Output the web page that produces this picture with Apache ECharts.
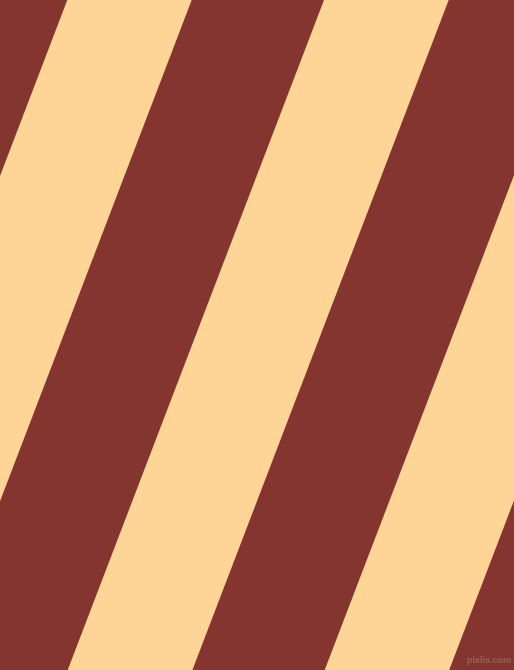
<!DOCTYPE html>
<html>
<head>
    <meta charset="utf-8">
    <title>stripes</title>
    <script type="text/javascript" src="https://cdn.jsdelivr.net/npm/echarts@6/dist/echarts.min.js"></script>
    <style>
        html, body { margin: 0; padding: 0; background: #FED596; }
    </style>
</head>
<body>
<div id="chartmain" style="width:514px; height:670px;"></div>
<script type="text/javascript">
// dark stripes, x where each one starts / ends on the top edge
var stripeStart = [-65, 191.7, 448.7, 705.5];
var stripeEnd = [67.3, 324, 581, 838];
// how far each edge moves left between top (y=0) and bottom (y=670)
var bottomShift = [256.3, 256.3, 256.3, 256.3];
var xRange = [0, 514];
var yRange = [0, 670];

var data = [];
for (var i = 0; i < stripeStart.length; i++) {
    data.push([stripeStart[i], stripeEnd[i], bottomShift[i]]);
}

var option = {
    backgroundColor: '#FED596',
    animation: false,
    grid: { left: 0, right: 0, top: 0, bottom: 0 },
    xAxis: { type: 'value', min: xRange[0], max: xRange[1], show: false },
    yAxis: { type: 'value', min: yRange[0], max: yRange[1], inverse: true, show: false },
    series: [{
        type: 'custom',
        clip: true,
        data: data,
        renderItem: function (params, api) {
            var x0 = api.value(0), x1 = api.value(1), d = api.value(2);
            var pts = [
                api.coord([x0, yRange[0]]),
                api.coord([x1, yRange[0]]),
                api.coord([x1 - d, yRange[1]]),
                api.coord([x0 - d, yRange[1]])
            ];
            return {
                type: 'polygon',
                shape: { points: pts },
                style: { fill: '#85352F' }
            };
        }
    }],
    graphic: [{
        type: 'text',
        x: 511,
        y: 656,
        z: 100,
        style: {
            text: 'pixlis.com',
            align: 'right',
            font: 'bold 9px "Liberation Sans"',
            fill: '#95625c'
        }
    }]
};
var myChart = echarts.init(document.getElementById('chartmain'));
myChart.setOption(option);
</script>
</body>
</html>
